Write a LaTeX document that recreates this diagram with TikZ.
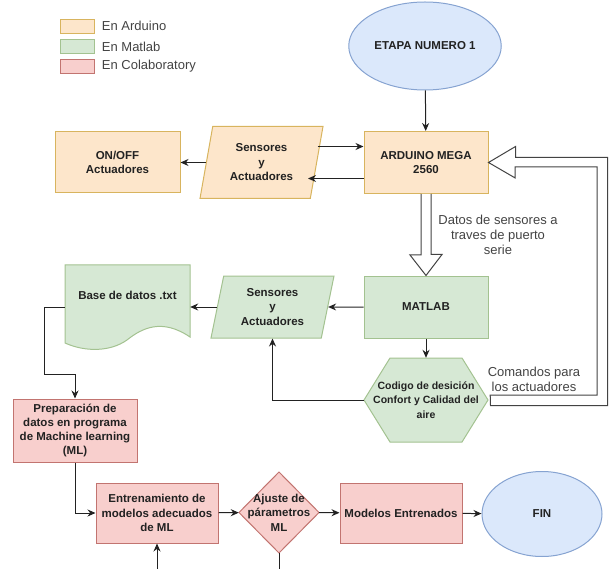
\documentclass[tikz,border=0pt]{standalone}
\usepackage{fontspec}
\setmainfont{Liberation Sans}
\usetikzlibrary{positioning,arrows.meta,shapes.geometric}

\definecolor{ardF}{HTML}{FDE6CB}
\definecolor{ardD}{HTML}{D8B45E}
\definecolor{matF}{HTML}{D6E8D4}
\definecolor{matD}{HTML}{A3C290}
\definecolor{colF}{HTML}{F8CFCD}
\definecolor{colD}{HTML}{C27470}
\definecolor{iniF}{HTML}{DBE8FB}
\definecolor{iniD}{HTML}{86A3D1}
\definecolor{ink}{HTML}{222222}

\newcommand{\boxfont}{\fontsize{11.5}{14.5}\selectfont\bfseries}
\newcommand{\hexfont}{\fontsize{10.5}{14.5}\selectfont\bfseries}
\newcommand{\labfont}{\fontsize{13}{15}\selectfont}

\begin{document}
\begin{tikzpicture}[x=1pt, y=-1pt,
        Ard/.style={rectangle, draw=ardD, fill=ardF, line width=1pt, minimum width=124, minimum height=62, align=center, text=ink, font=\boxfont},
        Mat/.style={Ard, draw=matD, fill=matF},
        Col/.style={Ard, draw=colD, fill=colF},
        Ini/.style={ellipse, draw=iniD, fill=iniF, line width=1pt, text=ink, font=\boxfont},
        Par/.style={trapezium, trapezium left angle=72, trapezium right angle=108, trapezium stretches body, inner sep=1pt},
        Free/.style={rectangle, draw=none, align=center, text=ink, font=\boxfont},
        Lab/.style={align=center, text=ink!85, font=\labfont},
        Sw/.style={rectangle, line width=0.8pt, minimum width=34, minimum height=14},
        arr/.style={-{Stealth[length=8pt, width=7pt]}, line width=1pt, ink},
        Hol/.style={draw=ink!85, fill=white, line width=1pt, line join=miter}
    ]
    \useasboundingbox (0,0) rectangle (610,569);

    % legend
    \node[Sw, draw=ardD, fill=ardF] (sw1) at (77,26)   {};
    \node[Sw, draw=matD, fill=matF] (sw2) at (77,46.5) {};
    \node[Sw, draw=colD, fill=colF] (sw3) at (77,66.5) {};
    \node[Lab, right=4pt of sw1] (lg1) {En Arduino};
    \node[Lab, right=4pt of sw2] (lg2) {En Matlab};
    \node[Lab, right=4pt of sw3] (lg3) {En Colaboratory};

    \node[Ini, minimum width=124, minimum height=88] (etapa) at (425,46) {ETAPA NUMERO 1};
    \node[Ard]                                      (ard)   at (426,162.5) {ARDUINO MEGA\\2560};
    \node[Ard, Par, minimum width=123, minimum height=72] (sen1) at (261.5,162.5) {Sensores\\y\\Actuadores};
    \node[Ard, minimum width=125, minimum height=61] (onoff) at (117.5,162.5) {ON/OFF\\Actuadores};

    \node[Mat]                                      (mat)   at (426,307) {MATLAB};
    \node[Mat, Par, minimum width=123, minimum height=62] (sen2) at (272.5,307) {Sensores\\y\\Actuadores};

    % document shape
    \draw[draw=matD, fill=matF, line width=1pt] (65,265) -- (190,265) -- (190,337)
        .. controls (162,318) and (142,328) .. (127,340)
        .. controls (110,352) and (85,352) .. (65,343) -- cycle;
    \node[Free, minimum width=125, minimum height=60] (base) at (127.5,295) {Base de datos .txt};

    % hexagon
    \draw[draw=matD, fill=matF, line width=1pt] (364,400) -- (390,358) -- (462,358)
        -- (488,400) -- (462,442) -- (390,442) -- cycle;
    \node[Free, font=\hexfont, minimum width=124, minimum height=84] (cod) at (426,400)
        {Codigo de desición\\Confort y Calidad del\\aire};

    \node[Col, minimum width=124, minimum height=63, font=\fontsize{11.5}{14}\selectfont\bfseries] (prep) at (75,430.5)
        {Preparación de\\datos en programa\\de Machine learning\\(ML)};
    \node[Col, minimum width=122, minimum height=60] (ent) at (157,513) {Entrenamiento de\\modelos adecuados\\de ML};

    % diamond
    \draw[draw=colD, fill=colF, line width=1pt] (279,472) -- (319,512.5) -- (279,553) -- (239,512.5) -- cycle;
    \node[Free, minimum width=80, minimum height=81] (aju) at (279,512.5) {Ajuste de\\párametros\\ML};

    \node[Col, minimum width=122, minimum height=60] (mod) at (401,513) {Modelos Entrenados};
    \node[Ini, minimum width=120, minimum height=85] (fin) at (542,514) {FIN};

    \node[Lab] (datos) at (498,235)   {Datos de sensores a\\traves de puerto\\serie};
    \node[Lab] (coman) at (534,379.5) {Comandos para\\los actuadores};

    \coordinate (lazoA) at (157,569);
    \coordinate (lazoB) at (279,569);

    \draw[arr] (etapa) -- (ard);
    \draw[arr] ([shift={(56pt,16pt)}]sen1.center) -- ([yshift=16pt]ard.west);
    \draw[arr] ([yshift=-16pt]ard.west) -- ([shift={(46.5pt,-16pt)}]sen1.center);
    \draw[arr] (sen1.west) -- (onoff.east |- sen1.west);

    \draw[Hol] ([xshift=-5pt]ard.south) -- ++(0,61) -- ++(-11,0) -- (mat.north)
        -- ++(16,-21) -- ++(-11,0) -- ([xshift=5pt]ard.south);
    \draw[Hol] ([shift={(2pt,5pt)}]cod.east) -- ++(107,0) -- ++(0,-228) -- ++(-82,0)
        -- ++(0,11) -- (ard.east) -- ++(27,-16) -- ++(0,11) -- ++(92,0)
        -- ++(0,248) -- ++(-117,0) -- cycle;

    \draw[arr] (mat.west) -- (sen2.east);
    \draw[arr] (sen2.west) -- (sen2.west -| base.east);
    \draw[arr] (mat) -- (cod);
    \draw[arr] (cod.west) -| (sen2.center |- sen2.south);

    \draw[arr] (sen2.west -| base.west) -- ++(-20,0) -- ++(0,67) -| (prep.north);
    \draw[arr] (prep.south) |- (ent.west);
    \draw[arr] (ent) -- (aju);
    \draw[arr] (aju) -- (mod);
    \draw[arr] (mod) -- (fin);
    \draw[arr] (lazoA) -- (ent.south);
    \draw[line width=1pt, ink] (aju.south) -- (lazoB);
\end{tikzpicture}
\end{document}
